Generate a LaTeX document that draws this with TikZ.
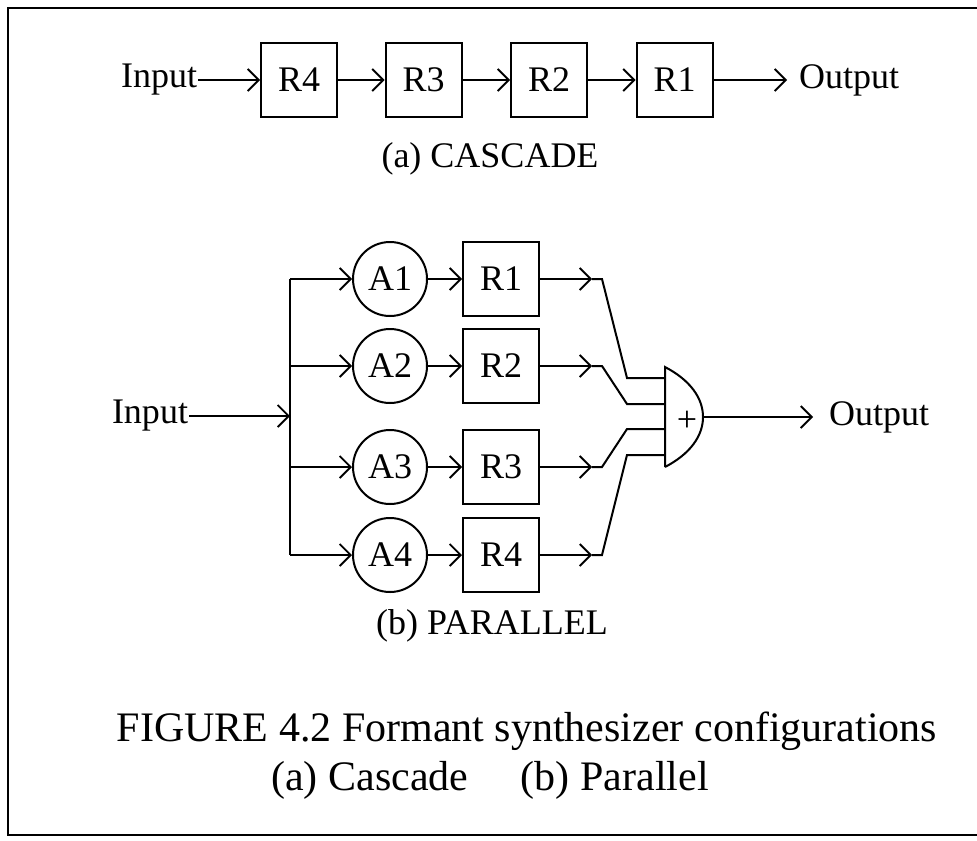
\documentclass[tikz,border=0pt]{standalone}
\usepackage{fontspec}
\setmainfont{Liberation Serif}
\usetikzlibrary{arrows.meta,positioning}

\begin{document}
\begin{tikzpicture}[x=0.5pt,y=-0.5pt,line width=1pt,
  >={Straight Barb[length=5.5pt,width=11pt,line width=0.9pt]},
  lbl/.style={font=\fontsize{18}{20}\selectfont,inner sep=0pt},
  resbox/.style={draw,lbl,minimum width=38pt,minimum height=37pt},
  ampcirc/.style={draw,circle,lbl,minimum size=37pt},
  capt/.style={font=\fontsize{21}{24}\selectfont,inner sep=0pt}]
\useasboundingbox (0,0) rectangle (977,840);
\draw[line width=1.2pt] (985,8) -- (8,8) -- (8,835) -- (985,835);
% (a) cascade
\node[lbl,anchor=east] (inA) at (198,80) {Input};
\foreach \i/\xx in {4/299,3/423.5,2/549,1/674.5}
  \node[resbox] (C\i) at (\xx,80) {R\i};
\node[lbl,anchor=west,inner xsep=5.5pt] (outA) at (787,80) {Output};
\draw[->] (inA) -- (C4);
\draw[->] (C4) -- (C3);
\draw[->] (C3) -- (C2);
\draw[->] (C2) -- (C1);
\draw[->] (C1) -- (outA);
\node[lbl] (capA) at (490,159) {(a) CASCADE};
% (b) parallel
\node[lbl,anchor=east] (inB) at (189,416) {Input};
\coordinate (busin) at (290,416);
\draw[->] (inB) -- (busin);
\foreach \i/\yy/\yin in {1/279/378,2/366/404,3/467/429,4/555/455} {
  \coordinate (bus\i) at (290,\yy);
  \node[ampcirc] (A\i) at (390,\yy) {A\i};
  \node[resbox] (P\i) at (501,\yy) {R\i};
  \coordinate (m\i) at (592,\yy);
  \coordinate (k\i) at (602,\yy);
  \coordinate (j\i) at (627,\yin);
  \coordinate (s\i) at (665,\yin);
  \draw[->] (bus\i) -- (A\i);
  \draw[->] (A\i) -- (P\i);
  \draw[->] (P\i) -- (m\i);
  \draw (m\i) -- (k\i) -- (j\i) -- (s\i);
}
\draw (bus1) -- (bus4);
% adder
\coordinate (sumtop) at (665,367);
\coordinate (sumbot) at (665,467);
\coordinate (sumout) at (703,417);
\draw (sumbot) -- (sumtop) .. controls (690,380) and (703,398) .. (sumout)
  .. controls (703,436) and (690,454) .. (sumbot);
\node[lbl] (plus) at (687,421) {+};
\node[lbl,anchor=west,inner xsep=7.5pt] (outB) at (813,417) {Output};
\draw[->] (sumout) -- (outB);
\node[lbl] (capB) at (492,626) {(b) PARALLEL};
% caption
\node[capt] (fig1) at (527,731) {FIGURE 4.2 Formant synthesizer configurations};
\node[capt] (fig2) at (490,780) {(a) Cascade\quad\ (b) Parallel};
\end{tikzpicture}
\end{document}
